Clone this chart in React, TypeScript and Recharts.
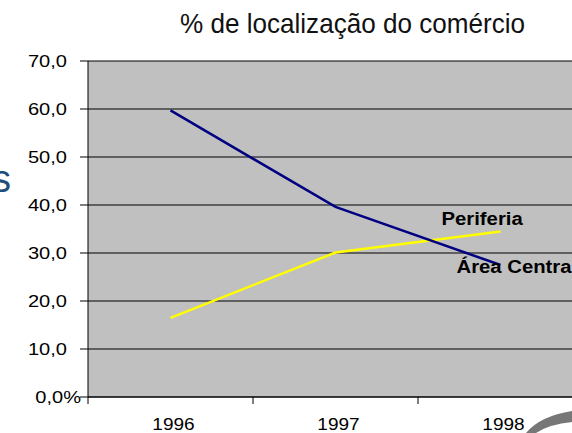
import React from 'react';
import { LineChart, Line, XAxis, YAxis, CartesianGrid, LabelList } from 'recharts';

const YEARS = ['1996', '1997', '1998'];
const AREA_CENTRAL = [59.7, 39.6, 27.5];
const PERIFERIA = [16.5, 30.1, 34.5];
const SERIES_NAMES = ['Área Central', 'Periferia'];
const Y_TICKS = [0, 10, 20, 30, 40, 50, 60, 70];
const Y_TICK_LABELS = ['0,0%', '10,0', '20,0', '30,0', '40,0', '50,0', '60,0', '70,0'];
const TITLE = '% de localização do comércio';

const FONT = '"Liberation Sans", Arial, sans-serif';

// each year sits in the middle of its band, band edges carry the tick marks
const chartData = YEARS.map((year, i) => ({
  x: i + 0.5,
  year,
  central: AREA_CENTRAL[i],
  periferia: PERIFERIA[i],
}));

const X_TICKS = [0, 0.5, 1, 1.5, 2, 2.5, 3];

const YTick = ({ x, y, payload }: any) => {
  const idx = Y_TICKS.indexOf(payload.value);
  const label = Y_TICK_LABELS[idx];
  const isPct = label.endsWith('%');
  return (
    <g transform={`translate(${x + (isPct ? 1 : -13)},${y}) scale(1.18,1)`}>
      <text x={0} y={0} dy="0.36em" textAnchor="end" fontSize={17} fontFamily={FONT} fill="#000">
        {label}
      </text>
    </g>
  );
};

const XTick = ({ x, y, payload }: any) => {
  const v = payload.value;
  if (Number.isInteger(v)) {
    return <line x1={x} x2={x} y1={y} y2={y + 7} stroke="#000" strokeWidth={1} />;
  }
  const label = YEARS[Math.floor(v)];
  return (
    <g transform={`translate(${x + 3},${y + 32.5}) scale(1.12,1)`}>
      <text x={0} y={0} textAnchor="middle" fontSize={17} fontFamily={FONT} fill="#000">
        {label}
      </text>
    </g>
  );
};

const endLabel = (name: string, dx: number, dy: number) => (props: any) => {
  if (props.index !== YEARS.length - 1) return null;
  return (
    <g transform={`translate(${props.x + dx},${props.y + dy}) scale(1.16,1)`}>
      <text x={0} y={0} fontSize={17.5} fontWeight="bold" fontFamily={FONT} fill="#000">
        {name}
      </text>
    </g>
  );
};

export default function App() {
  return (
    <div
      style={{
        position: 'fixed',
        left: 0,
        top: 0,
        width: 572,
        height: 433,
        overflow: 'hidden',
        background: '#fff',
      }}
    >
      <LineChart
        width={600}
        height={433}
        data={chartData}
        margin={{ top: 61, right: 17, bottom: 0, left: 0 }}
      >
        <CartesianGrid vertical={false} stroke="#000" fill="#C0C0C0" fillOpacity={1} />
        <XAxis
          dataKey="x"
          type="number"
          domain={[0, 3]}
          ticks={X_TICKS}
          interval={0}
          height={36}
          tickSize={0}
          tickMargin={0}
          tickLine={false}
          axisLine={{ stroke: '#000' }}
          tick={<XTick />}
        />
        <YAxis
          type="number"
          domain={[0, 70]}
          ticks={Y_TICKS}
          interval={0}
          width={88}
          tickSize={8}
          tickMargin={0}
          tickLine={{ stroke: '#000' }}
          axisLine={{ stroke: '#000' }}
          tick={<YTick />}
        />
        <Line
          dataKey="periferia"
          stroke="#FFFF00"
          strokeWidth={2.5}
          dot={false}
          isAnimationActive={false}
        >
          <LabelList dataKey="periferia" content={endLabel(SERIES_NAMES[1], -59, -6)} />
        </Line>
        <Line
          dataKey="central"
          stroke="#000080"
          strokeWidth={2.5}
          dot={false}
          isAnimationActive={false}
        >
          <LabelList dataKey="central" content={endLabel(SERIES_NAMES[0], -44, 8)} />
        </Line>
      </LineChart>
      <svg
        width={572}
        height={433}
        style={{ position: 'absolute', left: 0, top: 0, pointerEvents: 'none' }}
      >
        <text
          x={352.5}
          y={33}
          textAnchor="middle"
          fontSize={28}
          fontFamily={FONT}
          fill="#111"
          textLength={345}
          lengthAdjust="spacingAndGlyphs"
        >
          {TITLE}
        </text>
        <text x={11} y={192} textAnchor="end" fontSize={38} fontFamily={FONT} fill="#1F4E79">
          s
        </text>
        <path d="M 526 433 Q 540 416 572 411 L 572 422 Q 550 424 536 433 Z" fill="#777" />
      </svg>
    </div>
  );
}
